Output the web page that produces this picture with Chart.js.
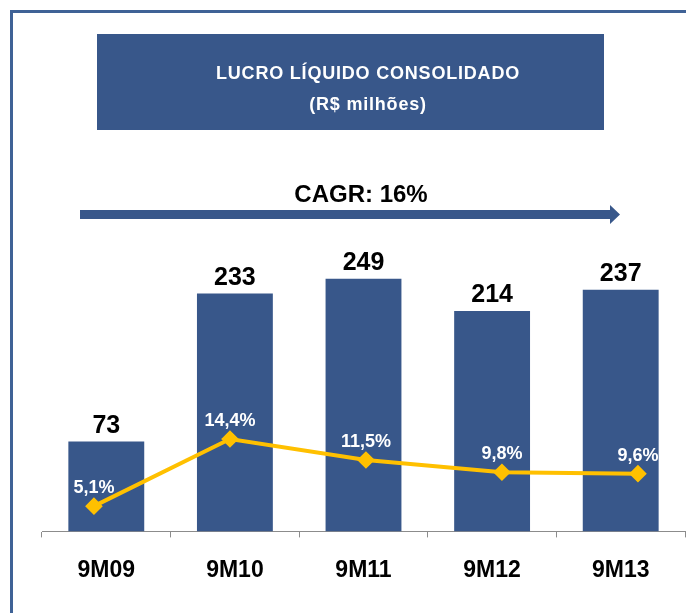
<!DOCTYPE html>
<html>
<head>
<meta charset="utf-8">
<script src="https://cdn.jsdelivr.net/npm/chart.js@4"></script>
<style>
  html, body { margin: 0; padding: 0; background: #fff; }
  canvas { display: block; }
</style>
</head>
<body>
<canvas id="chart" width="686" height="613"></canvas>
<script>
"use strict";

// valores
var categories = ['9M09', '9M10', '9M11', '9M12', '9M13'];
var lucro = [73, 233, 249, 214, 237];
var margem = [5.1, 14.4, 11.5, 9.8, 9.6];
var margemLabels = ['5,1%', '14,4%', '11,5%', '9,8%', '9,6%'];
var titulo = 'LUCRO LÍQUIDO CONSOLIDADO';
var subtitulo = '(R$ milhões)';
var cagrText = 'CAGR: 16%';

var FONT = "'Liberation Sans', Arial, sans-serif";
var AZUL = '#38578A';
var OURO = '#FFC000';

var decoracao = {
    id: 'decoracao',
    beforeDraw: function (chart) {
        var ctx = chart.ctx;
        ctx.save();
        ctx.fillStyle = '#fff';
        ctx.fillRect(0, 0, chart.width, chart.height);

        // moldura
        ctx.strokeStyle = '#3F6296';
        ctx.lineWidth = 3;
        ctx.beginPath();
        ctx.moveTo(11.5, chart.height);
        ctx.lineTo(11.5, 11.5);
        ctx.lineTo(chart.width, 11.5);
        ctx.stroke();

        // caixa do titulo
        ctx.fillStyle = AZUL;
        ctx.fillRect(97, 34, 507, 96);
        ctx.fillStyle = '#fff';
        ctx.textAlign = 'center';
        ctx.textBaseline = 'alphabetic';
        ctx.font = 'bold 18px ' + FONT;
        ctx.letterSpacing = '0.8px';
        ctx.fillText(titulo, 368, 79);
        ctx.fillText(subtitulo, 368, 110);
        ctx.letterSpacing = '0px';

        // CAGR + seta
        ctx.fillStyle = '#000';
        ctx.font = 'bold 24px ' + FONT;
        ctx.fillText(cagrText, 361, 202);

        ctx.fillStyle = AZUL;
        ctx.beginPath();
        ctx.moveTo(80, 210);
        ctx.lineTo(610, 210);
        ctx.lineTo(610, 205);
        ctx.lineTo(620, 214.5);
        ctx.lineTo(610, 224);
        ctx.lineTo(610, 219);
        ctx.lineTo(80, 219);
        ctx.closePath();
        ctx.fill();
        ctx.restore();
    },
    afterDatasetsDraw: function (chart) {
        var ctx = chart.ctx;
        ctx.save();
        ctx.textAlign = 'center';
        ctx.textBaseline = 'alphabetic';

        var barMeta = chart.getDatasetMeta(1);
        ctx.fillStyle = '#000';
        ctx.font = 'bold 25px ' + FONT;
        barMeta.data.forEach(function (bar, i) {
            ctx.fillText(String(lucro[i]), bar.x, bar.y - 9);
        });

        var lineMeta = chart.getDatasetMeta(0);
        ctx.fillStyle = '#fff';
        ctx.font = 'bold 18px ' + FONT;
        lineMeta.data.forEach(function (pt, i) {
            ctx.fillText(margemLabels[i], pt.x, pt.y - 13);
        });
        ctx.restore();
    }
};

var ctx = document.getElementById('chart').getContext('2d');

var myChart = new Chart(ctx, {
    type: 'bar',
    data: {
        labels: categories,
        datasets: [
            {
                type: 'line',
                data: margem.map(function (v, i) { return {x: i, y: v}; }),
                xAxisID: 'x2',
                yAxisID: 'y2',
                borderColor: OURO,
                borderWidth: 4,
                tension: 0,
                pointStyle: 'rectRot',
                pointRadius: 6,
                pointBackgroundColor: OURO,
                pointBorderColor: OURO,
                order: 0
            },
            {
                type: 'bar',
                data: lucro,
                xAxisID: 'x',
                yAxisID: 'y',
                backgroundColor: AZUL,
                base: -24,
                grouped: false,
                barPercentage: 0.59,
                categoryPercentage: 1,
                order: 1
            }
        ]
    },
    options: {
        responsive: false,
        animation: false,
        layout: {
            autoPadding: false,
            padding: {top: 250, left: 42, right: 1, bottom: 10}
        },
        plugins: {
            legend: {display: false},
            tooltip: {enabled: false}
        },
        scales: {
            x: {
                grid: {drawOnChartArea: false, tickLength: 6, color: '#8C8C8C'},
                border: {color: '#8C8C8C', width: 1},
                ticks: {
                    color: '#000',
                    padding: 19,
                    font: {family: FONT, size: 23, weight: 'bold'}
                }
            },
            x2: {type: 'linear', display: false, offset: false, min: -0.382, max: 4.346},
            y: {display: false, min: -24, max: 280},
            y2: {display: false, min: 1.6, max: 40.6}
        }
    },
    plugins: [decoracao]
});
</script>
</body>
</html>
